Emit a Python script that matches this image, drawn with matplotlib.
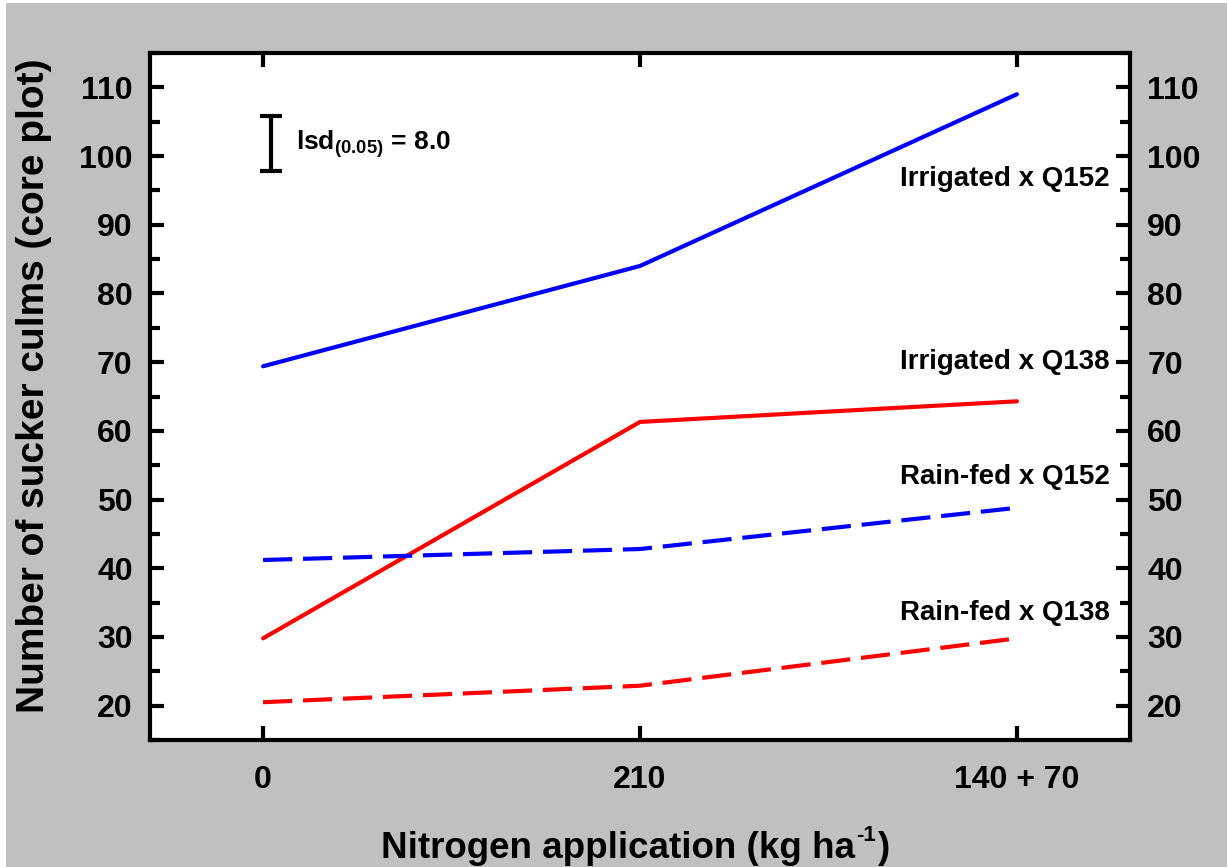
import matplotlib.pyplot as plt
from matplotlib.patches import Rectangle
from matplotlib.ticker import MultipleLocator

plt.rcParams['font.family'] = ['Liberation Sans', 'DejaVu Sans']
plt.rcParams['font.weight'] = 'bold'
plt.rcParams['mathtext.fontset'] = 'custom'
plt.rcParams['mathtext.rm'] = 'Liberation Sans:bold'
plt.rcParams['mathtext.bf'] = 'Liberation Sans:bold'
plt.rcParams['mathtext.default'] = 'bf'

# Data
n_labels = ["0", "210", "140 + 70"]
irr_q152 = [69.4, 84.0, 109.0]
irr_q138 = [29.8, 61.3, 64.3]
rain_q152 = [41.2, 42.8, 48.8]
rain_q138 = [20.5, 22.9, 29.8]
series_names = ["Irrigated x Q152", "Irrigated x Q138", "Rain-fed x Q152", "Rain-fed x Q138"]
label_y = [95.6, 69.0, 52.2, 32.4]
lsd = 8.0
lsd_center = 101.8

x = list(range(len(n_labels)))

fig = plt.figure(figsize=(12.27, 8.67), dpi=100, facecolor="white")
fig.patches.append(Rectangle((6 / 1227, 0.0), 1.0, 1 - 3 / 867, transform=fig.transFigure,
                             facecolor="#c0c0c0", edgecolor="none", zorder=-10))
ax = fig.add_axes([150 / 1227, 1 - 740 / 867, 980 / 1227, 687 / 867])
ax.set_facecolor("white")

lw = 3
ax.plot(x, irr_q152, color="#0000ff", lw=lw, solid_capstyle="round")
ax.plot(x, irr_q138, color="#ff0000", lw=lw, solid_capstyle="round")
ax.plot(x, rain_q152, color="#0000ff", lw=lw, dashes=(7, 2.6))
ax.plot(x, rain_q138, color="#ff0000", lw=lw, dashes=(7, 2.6))

for name, yy in zip(series_names, label_y):
    ax.text(2.247, yy, name, ha="right", va="baseline", fontsize=20, fontweight="bold")

# lsd bar
ax.errorbar([0.02], [lsd_center], yerr=[lsd / 2], color="black", lw=3, capsize=8, capthick=3)
ax.text(0.088, lsd_center, r"lsd$_{(0.05)}$ = 8.0", ha="left", va="center",
        fontsize=19, fontweight="bold")

ax.set_xlim(-0.3, 2.3)
ax.set_ylim(15, 115)
ax.set_xticks(x)
ax.set_xticklabels(n_labels)
ax.yaxis.set_major_locator(MultipleLocator(10))
ax.yaxis.set_minor_locator(MultipleLocator(5))
ax.set_yticks(range(20, 111, 10))

for s in ax.spines.values():
    s.set_linewidth(3)
ax.tick_params(axis="both", which="major", direction="in", length=10, width=3,
               labelsize=23, top=True, right=True, labelright=True)
ax.tick_params(axis="y", which="minor", direction="in", length=7, width=3,
               left=True, right=True)
ax.tick_params(axis="y", pad=12.5)
ax.tick_params(axis="x", pad=18)
for lab in ax.get_xticklabels() + ax.get_yticklabels():
    lab.set_fontweight("bold")

fig.text(34 / 1227, 1 - 386 / 867, "Number of sucker culms (core plot)", rotation=90,
         ha="center", va="center", fontsize=28, fontweight="bold")

# x label with superscript built from pieces
base_y = 1 - 858 / 867
t1 = fig.text(381 / 1227, base_y, "Nitrogen application (kg ha", ha="left", va="baseline",
              fontsize=26.5, fontweight="bold")
t2 = ax.annotate("-1", xy=(1, base_y), xycoords=(t1, "figure fraction"),
                 xytext=(1, 12), textcoords="offset points", ha="left", va="baseline",
                 fontsize=16, fontweight="bold", annotation_clip=False)
ax.annotate(")", xy=(1, base_y), xycoords=(t2, "figure fraction"),
            xytext=(0.5, 0), textcoords="offset points", ha="left", va="baseline",
            fontsize=26.5, fontweight="bold", annotation_clip=False)

fig.savefig("out.png", dpi=100, facecolor=fig.get_facecolor())
